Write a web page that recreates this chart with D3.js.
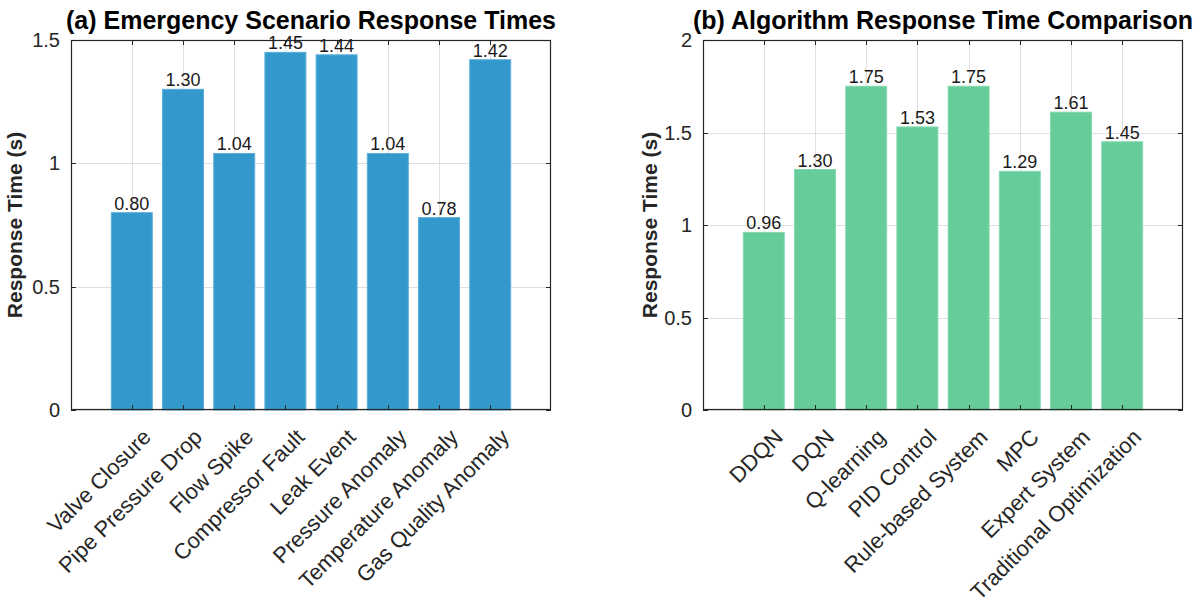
<!DOCTYPE html>
<html>
<head>
<meta charset="utf-8">
<script src="https://cdn.jsdelivr.net/npm/d3@7"></script>
<style>
  html, body { margin: 0; padding: 0; background: #fff; }
  svg { display: block; font-family: "Liberation Sans", Arial, sans-serif; }
</style>
</head>
<body>
<svg id="chart" width="1200" height="605"></svg>
<script>
// ---- data ----
const scenarioCategories = ["Valve Closure", "Pipe Pressure Drop", "Flow Spike", "Compressor Fault",
  "Leak Event", "Pressure Anomaly", "Temperature Anomaly", "Gas Quality Anomaly"];
const scenarioTimes = [0.80, 1.30, 1.04, 1.45, 1.44, 1.04, 0.78, 1.42];

const algorithmCategories = ["DDQN", "DQN", "Q-learning", "PID Control", "Rule-based System",
  "MPC", "Expert System", "Traditional Optimization"];
const algorithmTimes = [0.96, 1.30, 1.75, 1.53, 1.75, 1.29, 1.61, 1.45];

const scenarioYTicks = [0, 0.5, 1, 1.5];
const scenarioYTickLabels = ["0", "0.5", "1", "1.5"];
const algorithmYTicks = [0, 0.5, 1, 1.5, 2];
const algorithmYTickLabels = ["0", "0.5", "1", "1.5", "2"];

const titles = ["(a) Emergency Scenario Response Times", "(b) Algorithm Response Time Comparison"];
const yLabel = "Response Time (s)";

// ---- drawing ----
const svg = d3.select("#chart");
const plotTop = 40, plotBottom = 410;

const panels = [
  { left: 71, right: 551, cats: scenarioCategories, vals: scenarioTimes, ymax: 1.5,
    ticks: scenarioYTicks, tickLabels: scenarioYTickLabels, color: "#3399cc", edge: "#5aaed9",
    title: titles[0], ylabX: 21.5 },
  { left: 703, right: 1183, cats: algorithmCategories, vals: algorithmTimes, ymax: 2,
    ticks: algorithmYTicks, tickLabels: algorithmYTickLabels, color: "#66cc99", edge: "#85d8ae",
    title: titles[1], ylabX: 656.5 }
];

const axisColor = "#262626";

panels.forEach(p => {
  const n = p.cats.length;
  const x = d3.scaleLinear().domain([1 - 1.1875, n + 1.1875]).range([p.left, p.right]);
  const y = d3.scaleLinear().domain([0, p.ymax]).range([plotBottom, plotTop]);
  const idx = d3.range(1, n + 1);
  const g = svg.append("g");

  // grid
  g.append("g").selectAll("line").data(idx).join("line")
    .attr("x1", d => Math.round(x(d)) + 0.5).attr("x2", d => Math.round(x(d)) + 0.5)
    .attr("y1", plotTop).attr("y2", plotBottom)
    .attr("stroke", "#e0e0e0").attr("stroke-width", 1);
  g.append("g").selectAll("line").data(p.ticks).join("line")
    .attr("x1", p.left).attr("x2", p.right)
    .attr("y1", d => Math.round(y(d)) + 0.5).attr("y2", d => Math.round(y(d)) + 0.5)
    .attr("stroke", "#e0e0e0").attr("stroke-width", 1);

  // bars
  const bw = x(1.8) - x(1);
  g.append("g").selectAll("rect").data(p.vals).join("rect")
    .attr("x", (d, i) => x(i + 1) - bw / 2)
    .attr("width", bw)
    .attr("y", d => y(d))
    .attr("height", d => y(0) - y(d))
    .attr("fill", p.color)
    .attr("stroke", p.edge).attr("stroke-width", 1);

  // ticks (inside) on all four sides
  const tk = 5;
  const tg = g.append("g").attr("stroke", axisColor).attr("stroke-width", 1);
  idx.forEach(d => {
    const xx = Math.round(x(d)) + 0.5;
    tg.append("line").attr("x1", xx).attr("x2", xx).attr("y1", plotBottom).attr("y2", plotBottom - tk);
    tg.append("line").attr("x1", xx).attr("x2", xx).attr("y1", plotTop).attr("y2", plotTop + tk);
  });
  p.ticks.forEach(d => {
    const yy = Math.round(y(d)) + 0.5;
    tg.append("line").attr("x1", p.left).attr("x2", p.left + tk).attr("y1", yy).attr("y2", yy);
    tg.append("line").attr("x1", p.right).attr("x2", p.right - tk).attr("y1", yy).attr("y2", yy);
  });

  // box
  g.append("rect")
    .attr("x", p.left + 0.5).attr("y", plotTop + 0.5)
    .attr("width", p.right - p.left - 1).attr("height", plotBottom - plotTop - 1)
    .attr("fill", "none").attr("stroke", axisColor).attr("stroke-width", 1.2);

  // y tick labels
  g.append("g").selectAll("text").data(p.ticks).join("text")
    .attr("x", p.left - 11).attr("y", d => y(d))
    .attr("dy", "0.35em")
    .attr("text-anchor", "end")
    .attr("font-size", 20).attr("fill", axisColor)
    .text((d, i) => p.tickLabels[i]);

  // x tick labels rotated
  g.append("g").selectAll("text").data(p.cats).join("text")
    .attr("transform", (d, i) => `translate(${x(i + 1) + 15},${plotBottom + 23}) rotate(-45)`)
    .attr("dy", "0.35em")
    .attr("text-anchor", "end")
    .attr("font-size", 22).attr("fill", axisColor)
    .text(d => d);

  // bar value labels
  g.append("g").selectAll("text").data(p.vals).join("text")
    .attr("x", (d, i) => x(i + 1))
    .attr("y", d => y(d) - 3)
    .attr("text-anchor", "middle")
    .attr("font-size", 18).attr("fill", "#1a1a1a")
    .text(d => d.toFixed(2));

  // y label
  g.append("text")
    .attr("transform", `translate(${p.ylabX},${(plotTop + plotBottom) / 2}) rotate(-90)`)
    .attr("text-anchor", "middle")
    .attr("font-size", 21).attr("font-weight", "bold").attr("fill", axisColor)
    .text(yLabel);

  // title
  g.append("text")
    .attr("x", (p.left + p.right) / 2).attr("y", 28.5)
    .attr("text-anchor", "middle")
    .attr("font-size", 25).attr("font-weight", "bold").attr("fill", "#000")
    .text(p.title);
});
</script>
</body>
</html>
